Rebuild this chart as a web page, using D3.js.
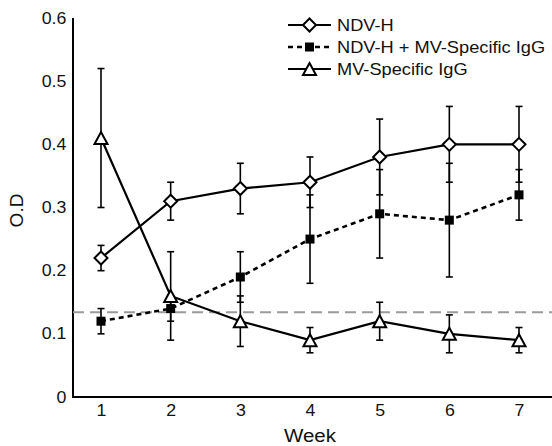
<!DOCTYPE html>
<html>
<head>
<meta charset="utf-8">
<script src="https://cdn.jsdelivr.net/npm/d3@7"></script>
<style>
  body { margin: 0; background: #fff; }
  text { font-family: Arial, "Liberation Sans", sans-serif; }
</style>
</head>
<body>
<div id="chart"></div>
<script>
// data
const weeks = [1, 2, 3, 4, 5, 6, 7]
const yTicks = [0, 0.1, 0.2, 0.3, 0.4, 0.5, 0.6]

const ndvH = [0.22, 0.31, 0.33, 0.34, 0.38, 0.40, 0.40]
const ndvHErr = [0.02, 0.03, 0.04, 0.04, 0.06, 0.06, 0.06]

const ndvHIgg = [0.12, 0.14, 0.19, 0.25, 0.29, 0.28, 0.32]
const ndvHIggErr = [0.02, 0.02, 0.04, 0.07, 0.07, 0.09, 0.04]

const mvIgg = [0.41, 0.16, 0.12, 0.09, 0.12, 0.10, 0.09]
const mvIggErr = [0.11, 0.07, 0.04, 0.02, 0.03, 0.03, 0.02]

const cutoff = 0.134

const seriesNames = ['NDV-H', 'NDV-H + MV-Specific IgG', 'MV-Specific IgG']

const width = 552
const height = 446
// the original figure is a bit stretched sideways, text included
const stretch = 'scale(1.11,1)'

const svg = d3.select('#chart')
  .append('svg')
  .attr('width', width)
  .attr('height', height)

// scales
const x = d3.scaleLinear().domain([1, 7]).range([101, 519])
const y = d3.scaleLinear().domain([0, 0.6]).range([397, 18])

// axes (no tick marks, labels only)
const yAxis = svg.append('g')
  .attr('transform', 'translate(73,0)')
  .call(d3.axisLeft(y).tickValues(yTicks).tickSize(0).tickPadding(6).tickFormat(d => d === 0 ? '0' : d3.format('.1f')(d)))
yAxis.select('.domain').attr('d', `M0,${y(0.6)}V${y(0)}`).attr('stroke', '#000').attr('stroke-width', 2)
yAxis.selectAll('text').attr('font-size', 16).attr('fill', '#111').attr('transform', stretch)

const xAxis = svg.append('g')
  .attr('transform', `translate(0,${y(0)})`)
  .call(d3.axisBottom(x).tickValues(weeks).tickSize(0).tickPadding(7.5).tickFormat(d3.format('d')))
xAxis.select('.domain').attr('d', `M72,0H${width}`).attr('stroke', '#000').attr('stroke-width', 2)
xAxis.selectAll('text').attr('font-size', 16).attr('fill', '#111').attr('transform', stretch)

// axis titles
svg.append('text')
  .attr('transform', `translate(23,${(y(0) + y(0.6)) / 2 + 3}) rotate(-90)`)
  .attr('text-anchor', 'middle')
  .attr('font-size', 19)
  .attr('fill', '#111')
  .text('O.D')

svg.append('text')
  .attr('transform', `translate(${x(4)},442) ${stretch}`)
  .attr('text-anchor', 'middle')
  .attr('font-size', 18.5)
  .attr('fill', '#111')
  .text('Week')

// cutoff line
svg.append('line')
  .attr('x1', 73).attr('x2', width)
  .attr('y1', y(cutoff)).attr('y2', y(cutoff))
  .attr('stroke', '#9a9a9a')
  .attr('stroke-width', 2)
  .attr('stroke-dasharray', '11,6')

const series = [
  { name: seriesNames[0], values: ndvH, err: ndvHErr, dash: null, marker: 'diamond' },
  { name: seriesNames[1], values: ndvHIgg, err: ndvHIggErr, dash: '5,4', marker: 'square' },
  { name: seriesNames[2], values: mvIgg, err: mvIggErr, dash: null, marker: 'triangle' },
]

const line = d3.line().x((d, i) => x(weeks[i])).y(d => y(d))

const drawMarker = (g, type, cx, cy) => {
  if (type === 'diamond') {
    g.append('path')
      .attr('d', `M${cx},${cy - 6.5}L${cx + 6.5},${cy}L${cx},${cy + 6.5}L${cx - 6.5},${cy}Z`)
      .attr('fill', '#fff').attr('stroke', '#000').attr('stroke-width', 2)
  } else if (type === 'square') {
    g.append('rect')
      .attr('x', cx - 4.5).attr('y', cy - 4.5)
      .attr('width', 9).attr('height', 9)
      .attr('fill', '#000')
  } else {
    g.append('path')
      .attr('d', `M${cx},${cy - 6}L${cx + 6.5},${cy + 6}L${cx - 6.5},${cy + 6}Z`)
      .attr('fill', '#fff').attr('stroke', '#000').attr('stroke-width', 2)
  }
}

// error bars first, then lines, then markers
const errGroup = svg.append('g').attr('class', 'error-bars')
series.forEach(s => {
  s.values.forEach((v, i) => {
    const cx = x(weeks[i])
    const top = y(v + s.err[i])
    const bot = y(v - s.err[i])
    errGroup.append('line')
      .attr('x1', cx).attr('x2', cx).attr('y1', top).attr('y2', bot)
      .attr('stroke', '#000').attr('stroke-width', 1.6)
    ;[top, bot].forEach(yy => {
      errGroup.append('line')
        .attr('x1', cx - 3.5).attr('x2', cx + 3.5).attr('y1', yy).attr('y2', yy)
        .attr('stroke', '#000').attr('stroke-width', 1.6)
    })
  })
})

const lineGroup = svg.append('g').attr('class', 'lines')
series.forEach(s => {
  lineGroup.append('path')
    .datum(s.values)
    .attr('d', line)
    .attr('fill', 'none')
    .attr('stroke', '#000')
    .attr('stroke-width', s.dash ? 2.6 : 2.2)
    .attr('stroke-dasharray', s.dash)
})

const markerGroup = svg.append('g').attr('class', 'markers')
series.forEach(s => {
  s.values.forEach((v, i) => drawMarker(markerGroup, s.marker, x(weeks[i]), y(v)))
})

// legend
const legend = svg.append('g').attr('class', 'legend')
series.forEach((s, i) => {
  const ly = 25 + i * 22
  legend.append('line')
    .attr('x1', 288).attr('x2', 331).attr('y1', ly).attr('y2', ly)
    .attr('stroke', '#000')
    .attr('stroke-width', s.dash ? 2.6 : 2.2)
    .attr('stroke-dasharray', s.dash)
  drawMarker(legend, s.marker, 309.5, ly)
  legend.append('text')
    .attr('transform', `translate(337,${ly + 5.8}) scale(1.14,1)`)
    .attr('font-size', 16)
    .attr('fill', '#111')
    .text(s.name)
})
</script>
</body>
</html>
